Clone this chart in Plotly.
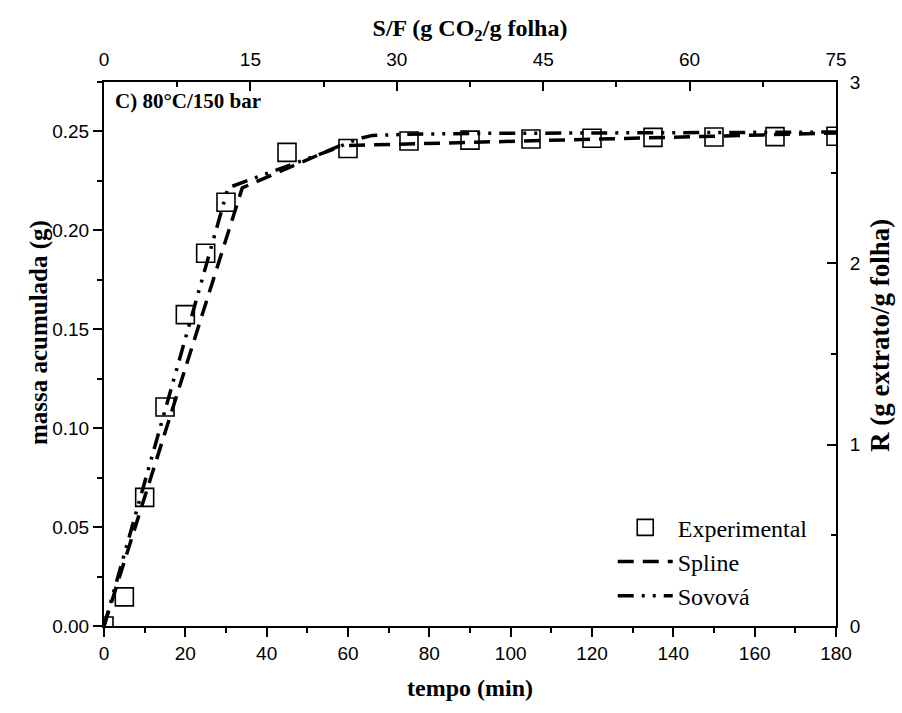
import plotly.graph_objects as go

# Extraction curve, 80 °C / 150 bar
tempo_exp = [0, 5, 10, 15, 20, 25, 30, 45, 60, 75, 90, 105, 120, 135, 150, 165, 180]
massa_exp = [0.0, 0.0147, 0.0650, 0.1107, 0.1574, 0.1884, 0.2142, 0.2394, 0.2414,
             0.2452, 0.2456, 0.2462, 0.2466, 0.2470, 0.2472, 0.2474, 0.2476]

# Piecewise-linear spline fit (knots)
tempo_spline = [0, 34, 58, 180]
massa_spline = [0.0, 0.2215, 0.2428, 0.2492]

# Sovová model curve
tempo_sovova = [0, 30.5, 57, 62, 66, 75, 90, 120, 150, 180]
massa_sovova = [0.0, 0.2215, 0.2415, 0.2460, 0.2480, 0.2486, 0.2490, 0.2493, 0.2495, 0.2497]

# Secondary scales
tempo_max = 180
sf_max = 75
massa_max = 0.275
r_max = 3

SERIF = "Liberation Serif"
SANS = "Liberation Sans"

fig = go.Figure()

fig.add_trace(go.Scatter(
    x=tempo_exp, y=massa_exp, mode="markers", name="Experimental",
    marker=dict(symbol="square-open", size=18, color="black", line=dict(width=1.6, color="black")),
    legendgroup="a",
))
fig.add_trace(go.Scatter(
    x=tempo_spline, y=massa_spline, mode="lines", name="Spline",
    line=dict(color="black", width=3.5, dash="16px,9px"),
    legendgroup="b",
))
fig.add_trace(go.Scatter(
    x=tempo_sovova, y=massa_sovova, mode="lines", name="Sovová",
    line=dict(color="black", width=3.5, dash="16px,8px,3px,8px,3px,8px"),
    legendgroup="c",
))
# Experimental points on the S/F and R scales (invisible, keeps secondary axes active)
fig.add_trace(go.Scatter(
    x=[t * sf_max / tempo_max for t in tempo_exp],
    y=[m * r_max / massa_max for m in massa_exp],
    xaxis="x2", yaxis="y2", mode="markers", marker=dict(opacity=0),
    showlegend=False, hoverinfo="skip",
))

axis_common = dict(
    showline=True, linewidth=2, linecolor="black", showgrid=False, zeroline=False,
    tickwidth=2, tickcolor="black", ticklen=9,
    tickfont=dict(family=SANS, size=19, color="black"),
)
title_font = dict(family=SERIF, size=24, color="black")
minor_out = dict(ticks="outside", ticklen=5, tickwidth=2, tickcolor="black")
minor_in = dict(ticks="inside", ticklen=5, tickwidth=2, tickcolor="black")

fig.update_layout(
    width=902, height=713,
    margin=dict(l=104, r=66, t=82, b=87),
    paper_bgcolor="white", plot_bgcolor="white",
    showlegend=True,
    legend=dict(
        x=0.695, xanchor="left", y=0.222, yanchor="top",
        bgcolor="rgba(0,0,0,0)", tracegroupgap=0, itemwidth=55,
        font=dict(family=SERIF, size=24, color="black"),
    ),
    xaxis=dict(
        range=[0, tempo_max], dtick=20, tick0=0, ticks="outside",
        minor=dict(dtick=10, **minor_out),
        title=dict(text="<b>tempo (min)</b>", font=title_font, standoff=16),
        **axis_common,
    ),
    xaxis2=dict(
        range=[0, sf_max], dtick=15, tick0=0, ticks="inside", overlaying="x", side="top",
        minor=dict(dtick=7.5, **minor_in),
        title=dict(text="<b>S/F (g CO<sub>2</sub>/g folha)</b>", font=title_font, standoff=6),
        ticklabelstandoff=6,
        **axis_common,
    ),
    yaxis=dict(
        range=[0, massa_max], dtick=0.05, tick0=0, tickformat=".2f", ticks="outside",
        minor=dict(dtick=0.025, **minor_out),
        **axis_common,
    ),
    yaxis2=dict(
        range=[0, r_max], dtick=1, tick0=0, ticks="inside", overlaying="y", side="right",
        minor=dict(dtick=0.5, **minor_in),
        ticklabelstandoff=8,
        **axis_common,
    ),
    annotations=[
        dict(text="<b>C) 80°C/150 bar</b>", xref="paper", yref="paper", x=0.012, y=0.965,
             xanchor="left", yanchor="middle", showarrow=False,
             font=dict(family=SERIF, size=21, color="black")),
        dict(text="<b>massa acumulada (g)</b>", xref="paper", yref="paper", x=-0.089, y=0.540,
             xanchor="center", yanchor="middle", textangle=-90, showarrow=False,
             font=dict(family=SERIF, size=25, color="black")),
        dict(text="<b>R (g extrato/g folha)</b>", xref="paper", yref="paper", x=1.060, y=0.535,
             xanchor="center", yanchor="middle", textangle=-90, showarrow=False,
             font=dict(family=SERIF, size=27, color="black")),
    ],
)

fig.write_html("out.html")
